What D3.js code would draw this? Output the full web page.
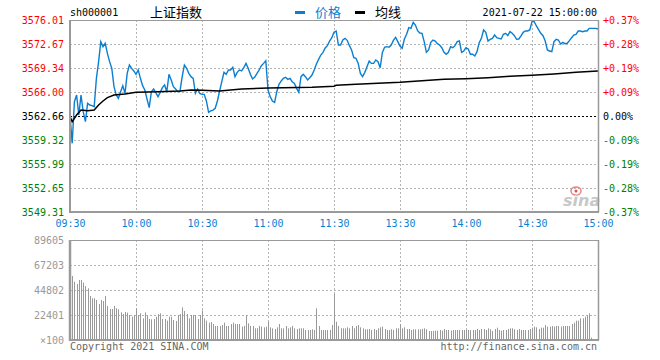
<!DOCTYPE html>
<html><head><meta charset="utf-8">
<script src="https://cdn.jsdelivr.net/npm/d3@7/dist/d3.min.js"></script>
<style>
html,body{margin:0;padding:0;background:#fff;}
svg{display:block;}
text{font-family:"DejaVu Sans Mono","Liberation Mono",monospace;font-size:10px;}
</style></head>
<body>
<svg id="chart" width="660" height="360"></svg>
<script>
// ---------------- data ----------------
const symbol = "sh000001";
const title = "上证指数";
const dateLabel = "2021-07-22 15:00:00";
const prevClose = 3562.66;
const priceTicks = [3576.01,3572.67,3569.34,3566.00,3562.66,3559.32,3555.99,3552.65,3549.31];
const pctLabels = ["+0.37%","+0.28%","+0.19%","+0.09%","0.00%","-0.09%","-0.19%","-0.28%","-0.37%"];
const timeIdx = [0,30,60,90,120,150,180,210,240];
const timeLabels = ["09:30","10:00","10:30","11:00","11:30","13:30","14:00","14:30","15:00"];
const volTicks = [89605,67203,44802,22401,0];
const volLabels = ["89605","67203","44802","22401","×100"];

// price per minute (241 points, 09:30-11:30 / 13:00-15:00)
const price = [
3562.80,3558.86,3564.65,3565.58,3562.80,3565.58,3563.26,3561.87,3564.42,3564.19,
3564.10,3563.96,3567.90,3570.22,3573.00,3572.30,3572.77,3571.37,3570.22,3569.29,
3566.74,3565.58,3565.12,3566.04,3566.88,3565.81,3568.59,3569.75,3569.29,3568.92,
3568.45,3569.06,3567.90,3566.88,3566.28,3565.02,3563.82,3566.04,3566.41,3565.91,
3565.35,3565.95,3566.60,3566.97,3566.04,3568.45,3567.67,3566.74,3566.41,3566.04,
3566.14,3568.13,3569.75,3569.29,3568.59,3568.13,3567.90,3565.81,3566.41,3565.81,
3565.67,3565.67,3564.75,3563.17,3563.36,3563.49,3563.73,3564.75,3566.14,3567.43,
3568.73,3568.45,3569.06,3569.06,3569.43,3568.13,3568.73,3569.06,3568.92,3569.38,
3569.98,3569.29,3568.45,3567.81,3568.08,3568.59,3569.06,3569.66,3569.98,3570.35,
3566.28,3565.35,3564.75,3564.56,3566.04,3567.06,3567.53,3567.90,3568.04,3567.76,
3567.90,3567.43,3567.20,3566.51,3565.95,3568.13,3568.45,3568.13,3567.67,3567.99,
3568.36,3569.06,3569.89,3570.54,3571.14,3571.51,3572.12,3572.44,3573.09,3573.55,
3574.30,
3574.48,3572.53,3572.53,3573.23,3573.46,3573.18,3572.44,3571.84,3570.77,
3570.68,3569.98,3568.59,3568.13,3568.73,3569.52,3570.31,3569.98,3569.98,3570.45,
3570.22,3569.38,3571.51,3572.21,3572.30,3572.21,3572.53,3573.18,3573.60,3573.00,
3572.39,3572.07,3573.37,3574.02,3574.94,3574.85,3575.69,3575.31,3574.53,3574.20,
3574.16,3573.00,3571.51,3571.84,3572.90,3573.23,3573.09,3572.72,3572.53,3572.16,
3571.51,3571.24,3571.51,3572.30,3572.16,3572.44,3573.00,3573.09,3571.51,3571.70,
3572.16,3571.98,3571.24,3571.24,3571.00,3571.61,3572.86,3573.46,3574.62,3574.29,
3573.09,3573.32,3573.46,3573.92,3573.55,3573.46,3573.37,3574.02,3574.16,3573.83,
3574.39,3574.16,3573.83,3573.32,3573.37,3573.79,3574.29,3574.48,3574.48,3574.62,
3575.78,3575.78,3575.18,3574.67,3574.16,3573.83,3573.09,3571.84,3571.70,3571.61,
3573.00,3573.32,3573.23,3572.67,3572.90,3572.72,3572.77,3573.14,3573.55,3573.92,
3574.02,3574.48,3574.48,3574.39,3574.48,3574.48,3574.85,3574.85,3574.85,3574.85,
3574.76];

// average price line (minute index, value)
const avgIdx = [0,1,3,5,8,11,13,15,17,20,25,30,40,50,55,60,68,78,90,110,120,121,130,140,150,160,170,180,190,200,210,220,230,240];
const avgVal = [3562.57,3561.87,3562.80,3563.49,3563.40,3563.49,3564.19,3564.75,3565.21,3565.58,3565.72,3565.95,3566.04,3566.14,3566.28,3566.23,3566.14,3566.41,3566.55,3566.65,3566.79,3566.92,3567.06,3567.20,3567.34,3567.57,3567.76,3567.85,3567.99,3568.18,3568.32,3568.50,3568.73,3568.92];

// volume per minute (x100 shares)
const volume = [
55000,
57347,52269,50178,53762,53762,51373,48386,46295,39426,37335,
37335,35842,32257,35842,34946,39426,30465,27777,27777,30465,
28375,27479,24790,23297,25089,24492,22401,20908,22401,28375,
22401,23894,19414,24790,21804,18817,18518,18817,20908,23297,
23894,18817,18817,17323,20908,20908,17921,17025,22401,23297,
29271,25985,23297,19414,22401,22401,22401,18817,22401,26583,
19414,17323,15531,16129,14337,12545,12545,12545,13441,15531,
12545,12545,14337,15531,14337,14337,14337,11947,12545,22401,
14934,12545,12545,10454,10454,12545,11947,11350,11947,16427,
11350,10454,9856,11350,14337,10454,10454,12545,10454,11350,
12545,10454,9856,10454,10454,10454,8960,8960,8960,9558,
8960,28375,12545,8960,8960,8960,8960,8960,13441,41218,
16427,12545,10454,10454,10454,11350,10454,12545,10454,12545,
13441,11350,10454,9558,9558,9856,8960,9856,8960,10454,
11350,11947,9856,8960,8960,9558,8960,10454,10454,14337,
10454,11350,9856,9856,8960,9558,9558,9558,9558,9856,
10454,9558,8064,8064,8064,8363,8363,8960,8363,9856,
8960,8960,8363,8960,8960,8960,8960,8960,8960,8960,
8960,8960,8960,8960,9856,8960,9856,9856,8960,10454,
9558,8064,9856,11051,8960,8363,8960,8960,9856,10454,
10454,9558,8960,9856,8960,8960,8960,8960,9856,11051,
11947,11350,9856,11051,11051,13441,11947,11947,12545,11947,
12545,12545,11947,12545,12545,12545,12545,14337,15531,17323,
17323,19414,19414,20908,22401,23894,2091,0,0,0];

// ---------------- drawing ----------------
const svg = d3.select("#chart");
const L = 70, R = 598, PT = 20, PB = 212, VT = 240, VB = 340;
const blue = "#0a7fd2", red = "#ff0000", green = "#008000", gridC = "#b4b4b4", borderC = "#9a9a9a";

const x = d3.scaleLinear().domain([0,240]).range([L,R]);
const yP = d3.scaleLinear().domain([3549.31,3576.01]).range([PB,PT]);
const yV = d3.scaleLinear().domain([0,89605]).range([VB,VT]);

svg.append("rect").attr("width",660).attr("height",360).attr("fill","#fff");

// grids
const g = svg.append("g");
priceTicks.slice(1,-1).filter(v=>v!==prevClose).forEach(v=>{
  g.append("line").attr("x1",L).attr("x2",R).attr("y1",Math.round(yP(v))+0.5).attr("y2",Math.round(yP(v))+0.5)
   .attr("stroke",gridC).attr("stroke-dasharray","2,2");
});
volTicks.slice(1,-1).forEach(v=>{
  g.append("line").attr("x1",L).attr("x2",R).attr("y1",Math.round(yV(v))+0.5).attr("y2",Math.round(yV(v))+0.5)
   .attr("stroke",gridC).attr("stroke-dasharray","2,2");
});
timeIdx.slice(1,-1).forEach(t=>{
  const xx = Math.round(x(t))+0.5;
  g.append("line").attr("x1",xx).attr("x2",xx).attr("y1",PT).attr("y2",PB).attr("stroke",gridC).attr("stroke-dasharray","2,2");
  g.append("line").attr("x1",xx).attr("x2",xx).attr("y1",VT).attr("y2",VB).attr("stroke",gridC).attr("stroke-dasharray","2,2");
});

// volume bars
svg.append("g").selectAll("line").data(volume).join("line")
  .attr("x1",(d,i)=>Math.round(x(i))+0.5).attr("x2",(d,i)=>Math.round(x(i))+0.5)
  .attr("y1",VB).attr("y2",d=>yV(d))
  .attr("stroke","#999").attr("stroke-width",1);

// prev close dashed line
svg.append("line").attr("x1",L).attr("x2",R).attr("y1",Math.round(yP(prevClose))+0.5).attr("y2",Math.round(yP(prevClose))+0.5)
  .attr("stroke","#000").attr("stroke-dasharray","2,2");

// sina watermark
const wm = svg.append("g");
wm.append("ellipse").attr("cx",576).attr("cy",191).attr("rx",5).attr("ry",4).attr("fill","none").attr("stroke","#f08080").attr("stroke-width",1.5);
wm.append("circle").attr("cx",576).attr("cy",191).attr("r",1.5).attr("fill","#e05050");
wm.append("text").attr("x",563).attr("y",206).attr("fill","#c8c8c8")
  .style("font-family","DejaVu Sans").style("font-size","16px").style("font-weight","bold").style("font-style","italic").text("sina");

// price line
svg.append("path").datum(price)
  .attr("d", d3.line().x((d,i)=>x(i)).y(d=>yP(d)))
  .attr("fill","none").attr("stroke",blue).attr("stroke-width",1.4);

// avg line
svg.append("path").datum(avgIdx.map((t,i)=>[t,avgVal[i]]))
  .attr("d", d3.line().x(d=>x(d[0])).y(d=>yP(d[1])))
  .attr("fill","none").attr("stroke","#000").attr("stroke-width",1.5);

// borders
function border(x1,y1,x2,y2,w){svg.append("line").attr("x1",x1).attr("y1",y1).attr("x2",x2).attr("y2",y2).attr("stroke",borderC).attr("stroke-width",w);}
border(L,PT+0.5,R,PT+0.5,1); border(R+0.5,PT,R+0.5,PB,1.5); border(L,PB,R+1,PB,2); border(L,PT,L,PB+1,2);
border(L,VT+0.5,R,VT+0.5,1); border(R+0.5,VT,R+0.5,VB,1.5); border(L,VB,R+1,VB,2); border(L,VT,L,VB+1,2.5);

// axes
const colFor = v => v > prevClose ? red : (v < prevClose ? green : "#000");
const axL = svg.append("g").attr("transform",`translate(${L},0)`)
  .call(d3.axisLeft(yP).tickValues(priceTicks).tickSize(0).tickPadding(6).tickFormat(d3.format(".2f")));
axL.select(".domain").remove();
axL.selectAll("text").attr("fill",d=>colFor(d)).style("font-size","10px").style("font-family","DejaVu Sans Mono");

const axR = svg.append("g").attr("transform",`translate(${R},0)`)
  .call(d3.axisRight(yP).tickValues(priceTicks).tickSize(0).tickPadding(5).tickFormat((d,i)=>pctLabels[i]));
axR.select(".domain").remove();
axR.selectAll("text").attr("fill",d=>colFor(d)).style("font-size","10px").style("font-family","DejaVu Sans Mono");

const axB = svg.append("g").attr("transform",`translate(0,${PB})`)
  .call(d3.axisBottom(x).tickValues(timeIdx).tickSize(0).tickPadding(8).tickFormat((d,i)=>timeLabels[i]));
axB.select(".domain").remove();
axB.selectAll("text").attr("fill",blue).style("font-size","10px").style("font-family","DejaVu Sans Mono");

const axV = svg.append("g").attr("transform",`translate(${L},0)`)
  .call(d3.axisLeft(yV).tickValues(volTicks).tickSize(0).tickPadding(6).tickFormat((d,i)=>volLabels[i]));
axV.select(".domain").remove();
axV.selectAll("text").attr("fill","#999").style("font-size","10px").style("font-family","DejaVu Sans Mono");

// header
svg.append("text").attr("x",70).attr("y",16).attr("fill","#000").text(symbol);
svg.append("text").attr("x",150).attr("y",17).attr("fill","#000")
  .style("font-family","'Noto Sans CJK SC'").style("font-size","13px").text(title);
svg.append("rect").attr("x",295).attr("y",11).attr("width",10).attr("height",3).attr("fill",blue);
svg.append("text").attr("x",315).attr("y",17).attr("fill",blue)
  .style("font-family","'Noto Sans CJK SC'").style("font-size","13px").text("价格");
svg.append("rect").attr("x",355).attr("y",11).attr("width",10).attr("height",3).attr("fill","#000");
svg.append("text").attr("x",375).attr("y",17).attr("fill","#000")
  .style("font-family","'Noto Sans CJK SC'").style("font-size","13px").text("均线");
svg.append("text").attr("x",597).attr("y",16).attr("text-anchor","end").attr("fill","#000").text(dateLabel);

// footer
svg.append("text").attr("x",70).attr("y",350).attr("fill","#666").text("Copyright 2021 SINA.COM");
svg.append("text").attr("x",597).attr("y",350).attr("text-anchor","end").attr("fill","#666").text("http://finance.sina.com.cn");
</script>
</body></html>
